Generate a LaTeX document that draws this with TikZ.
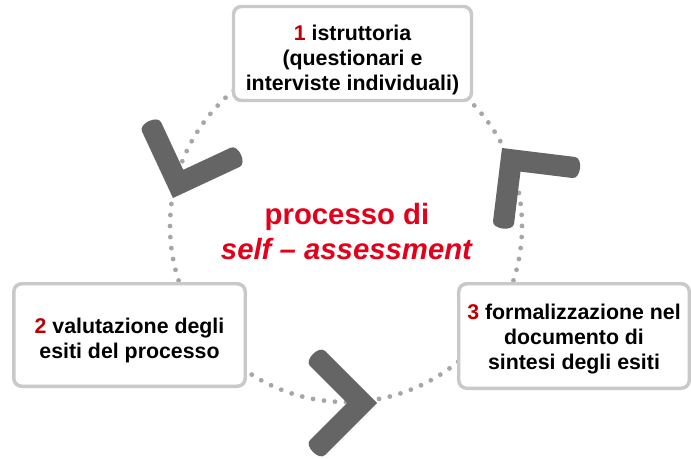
\documentclass[tikz,border=0pt]{standalone}
\usepackage{fontspec}
\setmainfont{Liberation Sans}
\usepackage{tikz}
\usetikzlibrary{arrows,shapes}
\definecolor{ringgray}{HTML}{A6A6A6}
\definecolor{boxgray}{HTML}{C9C9C9}
\definecolor{chevgray}{HTML}{656565}
\definecolor{numred}{HTML}{C00000}
\definecolor{titlered}{HTML}{E2001A}
\tikzstyle{stepbox} = [draw=boxgray, line width=2.6pt, rounded corners=6pt, fill=white, align=center, font=\bfseries\fontsize{16}{18.75}\selectfont]
\tikzstyle{dotring} = [draw=ringgray, line width=3.6pt, line cap=round, dash pattern=on 0pt off 8.294pt]
\tikzset{chevron/.pic={
  \fill[chevgray] (0,0) -- (-52,-52) .. controls (-58,-58) and (-73,-43) .. (-67,-37) -- (-30,0)
    -- (-67,37) .. controls (-73,43) and (-58,58) .. (-52,52) -- cycle;
}}
\newcommand{\stepnum}[1]{\textcolor{numred}{#1}}

\begin{document}
\begin{tikzpicture}[x=0.75pt,y=-0.75pt]
        \useasboundingbox (0,0) rectangle (691,459);
        \coordinate (hub) at (346,226);
        \path[dotring] (hub) circle[radius=176];
        \path[] node[stepbox,minimum width=178.5pt,minimum height=70.5pt,text height=59.5pt] (istr) at (352.5,53.5) {\stepnum{1} istruttoria\\(questionari e\\interviste individuali)};
        \path[] node[stepbox,minimum width=173.6pt,minimum height=76.9pt,text height=38.5pt] (valut) at (129.5,335) {\stepnum{2} valutazione degli\\esiti del processo};
        \path[] node[stepbox,minimum width=172.9pt,minimum height=78.4pt,text height=54.2pt] (formal) at (574,336) {\stepnum{3} formalizzazione nel\\documento di\\sintesi degli esiti};
        \path[] pic[rotate=250] (chevleft) at (173,198) {chevron};
        \path[] pic[rotate=0] (chevbot) at (377,403) {chevron};
        \path[] pic[rotate=128] (chevright) at (502,148) {chevron};
        \path[] node[text=titlered, align=center, font=\bfseries\fontsize{22}{26.25}\selectfont] (title) at (347,232) {processo di\\\textit{self – assessment}};
      \end{tikzpicture}
\end{document}
